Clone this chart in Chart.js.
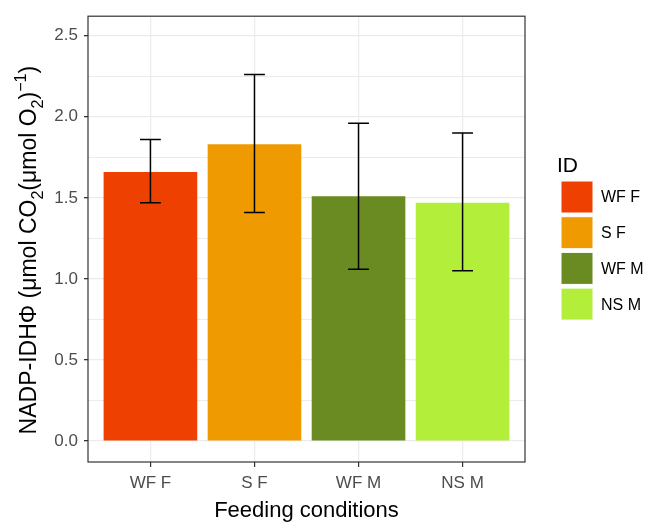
<!DOCTYPE html>
<html lang="en">
<head>
    <meta charset="UTF-8">
    <title>NADP-IDH by feeding condition</title>
    <script src="https://cdn.jsdelivr.net/npm/chart.js"></script>
    <style>
        body { margin: 0; background: #fff; }
        #wrap { width: 647px; height: 525px; }
    </style>
</head>
<body>
    <div id="wrap"><canvas id="barChart"></canvas></div>

    <script>
        // values
        const categories = ['WF F', 'S F', 'WF M', 'NS M'];
        const means = [1.66, 1.83, 1.51, 1.47];
        const lower = [1.47, 1.41, 1.06, 1.05];
        const upper = [1.86, 2.26, 1.96, 1.90];
        const barColors = ['#EE4000', '#EE9A00', '#698B22', '#B3EE3A'];
        const yTickValues = [0, 0.25, 0.5, 0.75, 1, 1.25, 1.5, 1.75, 2, 2.25, 2.5];

        const FONT = '"Liberation Sans", Arial, sans-serif';

        function isMajor(v) {
            return Math.round(v * 4) % 2 === 0;
        }

        // error bars drawn with the chart's scales
        const errorBars = {
            id: 'errorBars',
            afterDatasetsDraw(chart) {
                const ctx = chart.ctx;
                const xs = chart.scales.x, ys = chart.scales.y;
                ctx.save();
                ctx.strokeStyle = '#000';
                ctx.lineWidth = 1.5;
                categories.forEach((c, i) => {
                    const x = xs.getPixelForValue(i + 1);
                    const x0 = xs.getPixelForValue(i + 0.9);
                    const x1 = xs.getPixelForValue(i + 1.1);
                    const yl = ys.getPixelForValue(lower[i]);
                    const yu = ys.getPixelForValue(upper[i]);
                    ctx.beginPath();
                    ctx.moveTo(x, yl); ctx.lineTo(x, yu);
                    ctx.moveTo(x0, yl); ctx.lineTo(x1, yl);
                    ctx.moveTo(x0, yu); ctx.lineTo(x1, yu);
                    ctx.stroke();
                });
                ctx.restore();
            }
        };

        // panel border, y title with sub/superscripts, and the ID legend
        const decorations = {
            id: 'decorations',
            afterDraw(chart) {
                const ctx = chart.ctx;
                const a = chart.chartArea;
                ctx.save();
                ctx.strokeStyle = '#333';
                ctx.lineWidth = 1.2;
                ctx.strokeRect(a.left, a.top, a.right - a.left, a.bottom - a.top);

                // y axis title
                const size = 23;
                const parts = [
                    { t: 'NADP-IDHΦ (μmol CO', s: 1, dy: 0 },
                    { t: '2', s: 0.7, dy: 0.3 },
                    { t: '(μmol O', s: 1, dy: 0 },
                    { t: '2', s: 0.7, dy: 0.3 },
                    { t: ')', s: 1, dy: 0 },
                    { t: '−1', s: 0.7, dy: -0.45 },
                    { t: ')', s: 1, dy: 0 }
                ];
                let total = 0;
                parts.forEach(p => {
                    ctx.font = (size * p.s) + 'px ' + FONT;
                    p.w = ctx.measureText(p.t).width;
                    total += p.w;
                });
                ctx.translate(36, (a.top + a.bottom) / 2 + 11);
                ctx.rotate(-Math.PI / 2);
                ctx.fillStyle = '#000';
                ctx.textBaseline = 'alphabetic';
                let x = -total / 2;
                parts.forEach(p => {
                    ctx.font = (size * p.s) + 'px ' + FONT;
                    ctx.fillText(p.t, x, p.dy * size);
                    x += p.w;
                });
                ctx.restore();

                // legend
                ctx.save();
                ctx.fillStyle = '#000';
                ctx.textBaseline = 'alphabetic';
                ctx.font = '21px ' + FONT;
                ctx.fillText('ID', 557, 172);
                ctx.font = '16px ' + FONT;
                ctx.textBaseline = 'middle';
                categories.forEach((c, i) => {
                    const top = 181 + i * 35.7;
                    ctx.fillStyle = barColors[i];
                    ctx.fillRect(561, top, 32, 32);
                    ctx.strokeStyle = '#fff';
                    ctx.lineWidth = 1;
                    ctx.strokeRect(561, top, 32, 32);
                    ctx.fillStyle = '#000';
                    ctx.fillText(c, 601, top + 17);
                });
                ctx.restore();
            }
        };

        const ctx = document.getElementById('barChart').getContext('2d');
        new Chart(ctx, {
            type: 'bar',
            data: {
                datasets: [{
                    label: 'ID',
                    data: means.map((m, i) => ({ x: i + 1, y: m })),
                    backgroundColor: barColors,
                    borderWidth: 0,
                    barPercentage: 0.9,
                    categoryPercentage: 1.0
                }]
            },
            options: {
                responsive: true,
                maintainAspectRatio: false,
                animation: false,
                layout: { padding: { left: 0, top: 13, right: 122, bottom: 0 } },
                plugins: {
                    legend: { display: false },
                    tooltip: { enabled: false }
                },
                scales: {
                    x: {
                        type: 'linear',
                        min: 0.4,
                        max: 4.6,
                        offset: false,
                        afterBuildTicks: scale => {
                            scale.ticks = categories.map((c, i) => ({ value: i + 1 }));
                        },
                        afterFit: scale => { scale.height = 63; },
                        border: { display: false },
                        grid: {
                            offset: false,
                            color: '#ebebeb',
                            lineWidth: 1.2,
                            tickColor: '#333',
                            tickLength: 5
                        },
                        ticks: {
                            autoSkip: false,
                            maxRotation: 0,
                            padding: 6,
                            color: '#4d4d4d',
                            font: { family: FONT, size: 17 },
                            callback: v => categories[Math.round(v) - 1]
                        },
                        title: {
                            display: true,
                            text: 'Feeding conditions',
                            color: '#000',
                            font: { family: FONT, size: 22 },
                            padding: { top: 0, bottom: 1 }
                        }
                    },
                    y: {
                        min: -0.129,
                        max: 2.62,
                        afterBuildTicks: scale => {
                            scale.ticks = yTickValues.map(v => ({ value: v }));
                        },
                        afterFit: scale => { scale.width = 88; },
                        border: { display: false },
                        grid: {
                            color: '#ebebeb',
                            lineWidth: c => (c.tick && isMajor(c.tick.value)) ? 1.3 : 1,
                            tickColor: c => (c.tick && isMajor(c.tick.value)) ? '#333' : 'rgba(0,0,0,0)',
                            tickLength: 4
                        },
                        ticks: {
                            padding: 6,
                            color: '#4d4d4d',
                            font: { family: FONT, size: 17 },
                            callback: v => isMajor(v) ? v.toFixed(1) : ''
                        }
                    }
                }
            },
            plugins: [errorBars, decorations]
        });
    </script>
</body>
</html>
